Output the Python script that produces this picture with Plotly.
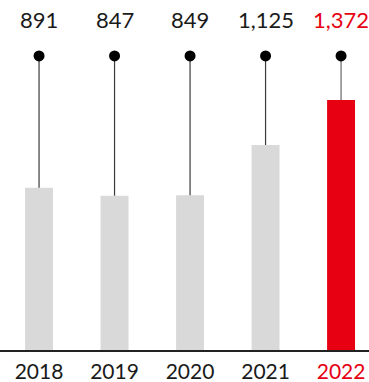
import plotly.graph_objects as go

years = ["2018", "2019", "2020", "2021", "2022"]
values = [891, 847, 849, 1125, 1372]
value_labels = ["891", "847", "849", "1,125", "1,372"]

GRAY = "#d9d9d9"
RED = "#e60012"
TEXT = "#1a1a1a"
FONT = "Lato"

colors = [GRAY] * (len(years) - 1) + [RED]
text_colors = [TEXT] * (len(years) - 1) + [RED]
xs = list(range(len(years)))

DOT_LEVEL = 1614  # height of the marker row, in data units
LABEL_SHIFT = 36  # px above the markers

fig = go.Figure()

fig.add_trace(go.Bar(
    x=xs, y=values, marker=dict(color=colors, line=dict(width=0)),
    width=0.37, hoverinfo="skip",
))

# leader lines from marker down to each bar top
for x, v in zip(xs, values):
    fig.add_trace(go.Scatter(
        x=[x, x], y=[v, DOT_LEVEL], mode="lines",
        line=dict(color="#3a3a3a" if x < len(xs) - 1 else "#666666", width=1.2),
        hoverinfo="skip",
    ))

fig.add_trace(go.Scatter(
    x=xs, y=[DOT_LEVEL] * len(xs), mode="markers",
    marker=dict(color="#000000", size=11), hoverinfo="skip",
))

for x, lab, c in zip(xs, value_labels, text_colors):
    fig.add_annotation(
        x=x, y=DOT_LEVEL, text=lab, showarrow=False, yshift=LABEL_SHIFT,
        font=dict(family=FONT, size=22, color=c),
    )

ticktext = [f'<span style="color:{c}">{y}</span>' for y, c in zip(years, text_colors)]

fig.update_layout(
    width=369, height=382,
    margin=dict(l=0, r=0, t=0, b=32),
    plot_bgcolor="white", paper_bgcolor="white",
    showlegend=False,
    xaxis=dict(
        range=[-0.517, 4.37], tickvals=xs, ticktext=ticktext,
        showline=True, linecolor="#222222", linewidth=2,
        showgrid=False, zeroline=False, ticks="",
        tickfont=dict(family=FONT, size=21, color=TEXT),
        ticklabelstandoff=2,
        fixedrange=True,
    ),
    yaxis=dict(
        range=[0, 1921], visible=False, showgrid=False, zeroline=False,
        fixedrange=True,
    ),
)

fig.write_html("out.html", config={"displayModeBar": False})
